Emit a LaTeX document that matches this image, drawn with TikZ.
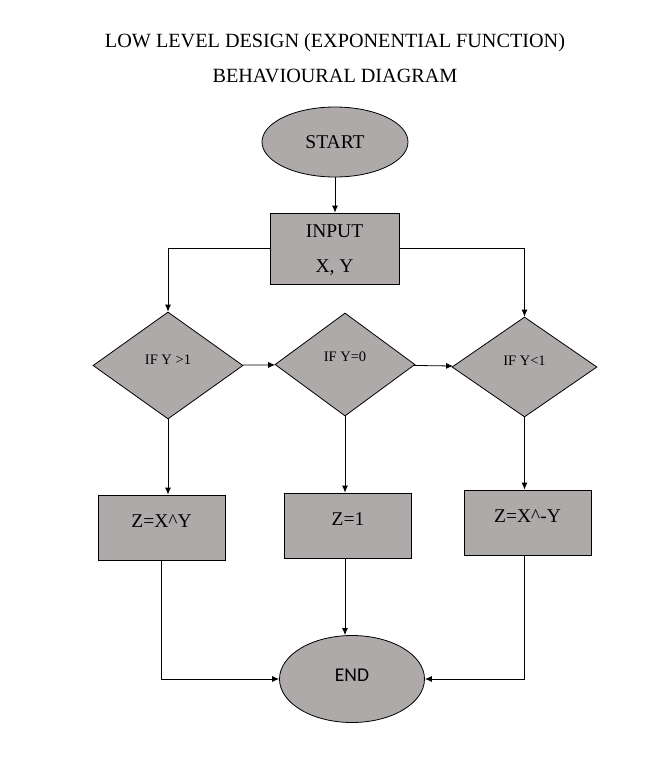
\documentclass[tikz,border=0pt]{standalone}
\usepackage{fontspec}
\setmainfont{Liberation Serif}
\newfontfamily\calfont{Carlito}
\usetikzlibrary{shapes.geometric,arrows.meta}

\definecolor{boxgray}{RGB}{174,170,170}
\newcommand{\titletxt}{\fontsize{20.2}{23}\selectfont}
\newcommand{\bigtxt}{\fontsize{19.5}{22}\selectfont}
\newcommand{\smalltxt}{\fontsize{14.5}{17}\selectfont}
\newcommand{\tn}{\node[ellipse, draw, fill=boxgray, font=\bigtxt]}
\newcommand{\pn}{\node[rectangle, draw, fill=boxgray, minimum width=127pt, minimum height=65pt, font=\bigtxt, text depth=12pt]}
\newcommand{\dn}{\node[diamond, draw, fill=boxgray, inner sep=0pt, font=\smalltxt, text depth=12pt]}

\begin{document}
\begin{tikzpicture}[x=1pt, y=-1pt, line width=0.8pt, >={Latex[length=7pt,width=6pt]}]
            \useasboundingbox (0,0) rectangle (665,760);

            \node[font=\titletxt] (t1) at (335,43) {LOW LEVEL DESIGN (EXPONENTIAL FUNCTION)};
            \node[font=\titletxt] (t2) at (335,76) {BEHAVIOURAL DIAGRAM};

            \tn[minimum width=146pt, minimum height=70pt] (n0) at (335,142) {START};
            \pn[minimum width=129pt, minimum height=71pt, text depth=0pt, align=center] (n1) at (334.5,248.5) {INPUT\\[13pt]X, Y};
            \dn[minimum width=150pt, minimum height=107pt] (n2) at (168,365.5) {IF Y >1};
            \dn[minimum width=140pt, minimum height=103pt, text depth=16pt] (n3) at (345,364.5) {IF Y=0};
            \dn[minimum width=145pt, minimum height=100pt] (n4) at (524.5,367) {IF Y<1};
            \pn (n5) at (161.5,527.5) {Z=X\^{}Y};
            \pn (n6) at (348,525.5) {Z=1};
            \pn (n7) at (527.5,522.5) {Z=X\^{}-Y};
            \tn[minimum width=145pt, minimum height=87pt, font=\bigtxt\calfont, text depth=8pt] (n8) at (352,679) {END};

            \draw[->] (n0) -- (n1.north -| n0);
            \draw[->] (n1.west) -| (n2.north);
            \draw[->] (n1.east) -| (n4.north);
            \draw[->] (n2) -- (n3);
            \draw[->] (n3) -- (n4);
            \draw[->] (n2) -- (n2 |- n5.north);
            \draw[->] (n3) -- (n3 |- n6.north);
            \draw[->] (n4) -- (n4 |- n7.north);
            \draw[->] (n6.south -| n3) -- (n8.north -| n3);

            \draw[->]
                (n5.south) |- (n8.west)
                ;

            \draw[->]
                (n7.south -| n4) |- (n8.east)
                ;

        \end{tikzpicture}
\end{document}
